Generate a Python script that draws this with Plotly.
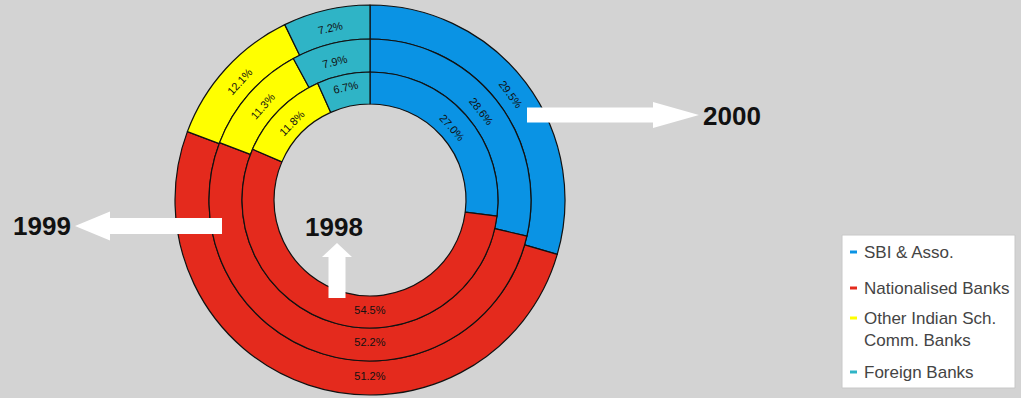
import plotly.graph_objects as go

W, H = 1021, 398

# Share of bank groups (%), one ring per year
categories = ["SBI & Asso.", "Nationalised Banks", "Other Indian Sch.<br>Comm. Banks", "Foreign Banks"]
years = ["1998", "1999", "2000"]
share_1998 = [27.0, 54.5, 11.8, 6.7]
share_1999 = [28.6, 52.2, 11.3, 7.9]
share_2000 = [29.5, 51.2, 12.1, 7.2]

colors = ["#0a93e4", "#e42a1d", "#ffff00", "#2fb4c6"]
bg = "#d3d3d3"

# ring geometry in pixels: centre and (outer, inner) radii, outermost first
cx, cy = 370, 200
ring_specs = [
    (years[2], share_2000, 195, 161),
    (years[1], share_1999, 161, 128),
    (years[0], share_1998, 128, 96),
]


def px(x):
    return x / W


def py(y):
    return 1 - y / H


fig = go.Figure()
for name, vals, r_out, r_in in ring_specs:
    fig.add_trace(go.Pie(
        name=name,
        labels=categories,
        values=vals,
        sort=False,
        direction="clockwise",
        rotation=0,
        hole=r_in / r_out,
        domain=dict(x=[px(cx - r_out), px(cx + r_out)], y=[py(cy + r_out), py(cy - r_out)]),
        marker=dict(colors=colors, line=dict(color="#111111", width=1.2)),
        texttemplate="%{value:.1f}%",
        textposition="inside",
        insidetextorientation="tangential",
        textfont=dict(family="Liberation Sans, Arial", size=11, color="#111111"),
        showlegend=False,
        hoverinfo="label+value+name",
    ))


def poly(points):
    return "M " + " L ".join(f"{px(x):.5f},{py(y):.5f}" for x, y in points) + " Z"


def arrow_h(x_base, x_neck, x_tip, y, shaft, head):
    return poly([(x_base, y - shaft), (x_neck, y - shaft), (x_neck, y - head), (x_tip, y),
                 (x_neck, y + head), (x_neck, y + shaft), (x_base, y + shaft)])


def arrow_v(y_base, y_neck, y_tip, x, shaft, head):
    return poly([(x - shaft, y_base), (x - shaft, y_neck), (x - head, y_neck), (x, y_tip),
                 (x + head, y_neck), (x + shaft, y_neck), (x + shaft, y_base)])


shapes = [
    dict(type="path", xref="paper", yref="paper", path=arrow_h(527, 653, 699, 115, 7.5, 13),
         fillcolor="white", line=dict(width=0)),
    dict(type="path", xref="paper", yref="paper", path=arrow_h(222, 110, 75, 226, 8, 14.5),
         fillcolor="white", line=dict(width=0)),
    dict(type="path", xref="paper", yref="paper", path=arrow_v(298, 257, 243, 337, 8.5, 15),
         fillcolor="white", line=dict(width=0)),
]

year_font = dict(family="Liberation Sans, Arial", size=26, color="#111111")
annotations = [
    dict(text="<b>2000</b>", x=px(732), y=py(116)),
    dict(text="<b>1999</b>", x=px(42), y=py(226)),
    dict(text="<b>1998</b>", x=px(334), y=py(227)),
]
for a in annotations:
    a.update(xref="paper", yref="paper", xanchor="center", yanchor="middle", showarrow=False, font=year_font)

# legend box
shapes.append(dict(type="rect", xref="paper", yref="paper", x0=px(842), x1=px(1015), y0=py(388), y1=py(235),
                   fillcolor="white", line=dict(color="#c8c8c8", width=1)))
legend_rows = [252, 288, 329, 372]
for cat, col, yy in zip(categories, colors, legend_rows):
    first_line = yy - 11 if "<br>" in cat else yy
    shapes.append(dict(type="rect", xref="paper", yref="paper", x0=px(850), x1=px(857),
                       y0=py(first_line + 1.5), y1=py(first_line - 1.5), fillcolor=col, line=dict(width=0)))
    annotations.append(dict(text=cat, xref="paper", yref="paper", x=px(862), y=py(yy),
                            xanchor="left", yanchor="middle", align="left", showarrow=False,
                            font=dict(family="Liberation Sans, Arial", size=17, color="#444444")))

fig.update_layout(
    width=W, height=H,
    margin=dict(l=0, r=0, t=0, b=0),
    paper_bgcolor=bg, plot_bgcolor=bg,
    shapes=shapes,
    annotations=annotations,
    showlegend=False,
)

fig.write_html("out.html")
